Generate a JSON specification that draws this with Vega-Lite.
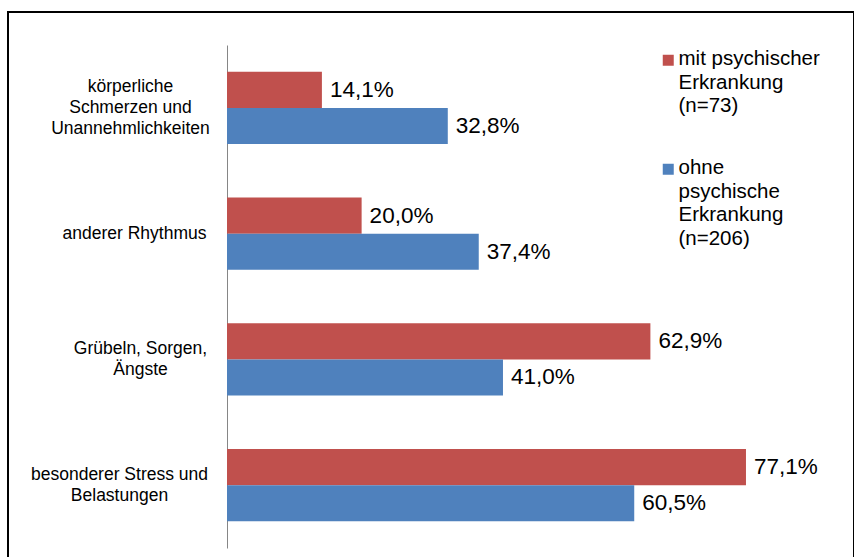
{
  "$schema": "https://vega.github.io/schema/vega-lite/v6.json",
  "width": 846,
  "height": 560,
  "autosize": {"type": "none"},
  "padding": {"left": 8, "top": 12, "right": 0, "bottom": 0},
  "background": "#ffffff",
  "config": {
    "locale": {"number": {"decimal": ",", "thousands": ".", "grouping": [3], "currency": ["", " €"]}},
    "view": {"stroke": "#000000", "strokeWidth": 2},
    "font": "Liberation Sans"
  },
  "data": {
    "values": [
      {"kategorie": "körperliche Schmerzen und Unannehmlichkeiten", "gruppe": "mit psychischer Erkrankung (n=73)", "anteil": 0.141},
      {"kategorie": "körperliche Schmerzen und Unannehmlichkeiten", "gruppe": "ohne psychische Erkrankung (n=206)", "anteil": 0.328},
      {"kategorie": "anderer Rhythmus", "gruppe": "mit psychischer Erkrankung (n=73)", "anteil": 0.200},
      {"kategorie": "anderer Rhythmus", "gruppe": "ohne psychische Erkrankung (n=206)", "anteil": 0.374},
      {"kategorie": "Grübeln, Sorgen, Ängste", "gruppe": "mit psychischer Erkrankung (n=73)", "anteil": 0.629},
      {"kategorie": "Grübeln, Sorgen, Ängste", "gruppe": "ohne psychische Erkrankung (n=206)", "anteil": 0.410},
      {"kategorie": "besonderer Stress und Belastungen", "gruppe": "mit psychischer Erkrankung (n=73)", "anteil": 0.771},
      {"kategorie": "besonderer Stress und Belastungen", "gruppe": "ohne psychische Erkrankung (n=206)", "anteil": 0.605}
    ]
  },
  "encoding": {
    "y": {
      "field": "kategorie",
      "type": "nominal",
      "sort": ["körperliche Schmerzen und Unannehmlichkeiten", "anderer Rhythmus", "Grübeln, Sorgen, Ängste", "besonderer Stress und Belastungen"],
      "scale": {"range": [33, 536], "paddingInner": 0.4274, "paddingOuter": 0.2137},
      "axis": {
        "title": null,
        "orient": "left",
        "offset": -219,
        "ticks": false,
        "domainColor": "#868686",
        "domainWidth": 1,
        "labelAlign": "center",
        "labelBaseline": "middle",
        "labelPadding": {
          "condition": [
            {"test": "datum.value == 'Grübeln, Sorgen, Ängste'", "value": 87},
            {"test": "datum.value == 'besonderer Stress und Belastungen'", "value": 108},
            {"test": "datum.value == 'anderer Rhythmus'", "value": 93}
          ],
          "value": 97
        },
        "labelOffset": {
          "condition": [
            {"test": "datum.value == 'körperliche Schmerzen und Unannehmlichkeiten'", "value": -21},
            {"test": "datum.value == 'anderer Rhythmus'", "value": 0}
          ],
          "value": -10.5
        },
        "labelFontSize": 17.5,
        "labelLineHeight": 21,
        "labelColor": "#000000",
        "labelLimit": 300,
        "labelExpr": "datum.label == 'körperliche Schmerzen und Unannehmlichkeiten' ? ['körperliche', 'Schmerzen und', 'Unannehmlichkeiten'] : datum.label == 'Grübeln, Sorgen, Ängste' ? ['Grübeln,  Sorgen,', 'Ängste'] : datum.label == 'besonderer Stress und Belastungen' ? ['besonderer Stress und', 'Belastungen'] : datum.label"
      }
    },
    "yOffset": {
      "field": "gruppe",
      "type": "nominal",
      "sort": ["mit psychischer Erkrankung (n=73)", "ohne psychische Erkrankung (n=206)"],
      "scale": {"paddingInner": 0, "paddingOuter": 0}
    },
    "x": {
      "field": "anteil",
      "type": "quantitative",
      "scale": {"domain": [0, 0.93], "range": [219, 845], "nice": false},
      "axis": null
    }
  },
  "layer": [
    {
      "mark": {"type": "bar"},
      "encoding": {
        "color": {
          "field": "gruppe",
          "type": "nominal",
          "scale": {
            "domain": ["mit psychischer Erkrankung (n=73)", "ohne psychische Erkrankung (n=206)"],
            "range": ["#C0504D", "#4F81BD"]
          },
          "legend": {
            "title": null,
            "orient": "none",
            "legendX": 650,
            "legendY": 38,
            "direction": "vertical",
            "padding": 0,
            "symbolType": "square",
            "symbolSize": 121,
            "symbolStrokeWidth": 0,
            "labelFontSize": 20.5,
            "labelColor": "#000000",
            "labelOffset": 0,
            "labelBaseline": "top",
            "labelLimit": 300,
            "rowPadding": 41,
            "labelExpr": "datum.label == 'mit psychischer Erkrankung (n=73)' ? ['mit psychischer', 'Erkrankung', '(n=73)'] : ['ohne', 'psychische', 'Erkrankung', '(n=206)']",
            "encode": {
              "labels": {
                "update": {
                  "dy": {"value": -11},
                  "lineHeight": {"value": 23.5}
                }
              }
            }
          }
        }
      }
    },
    {
      "mark": {"type": "text", "align": "left", "baseline": "middle", "dx": 8, "fontSize": 22.5, "color": "#000000"},
      "encoding": {
        "text": {"field": "anteil", "type": "quantitative", "format": ".1%"}
      }
    }
  ]
}
